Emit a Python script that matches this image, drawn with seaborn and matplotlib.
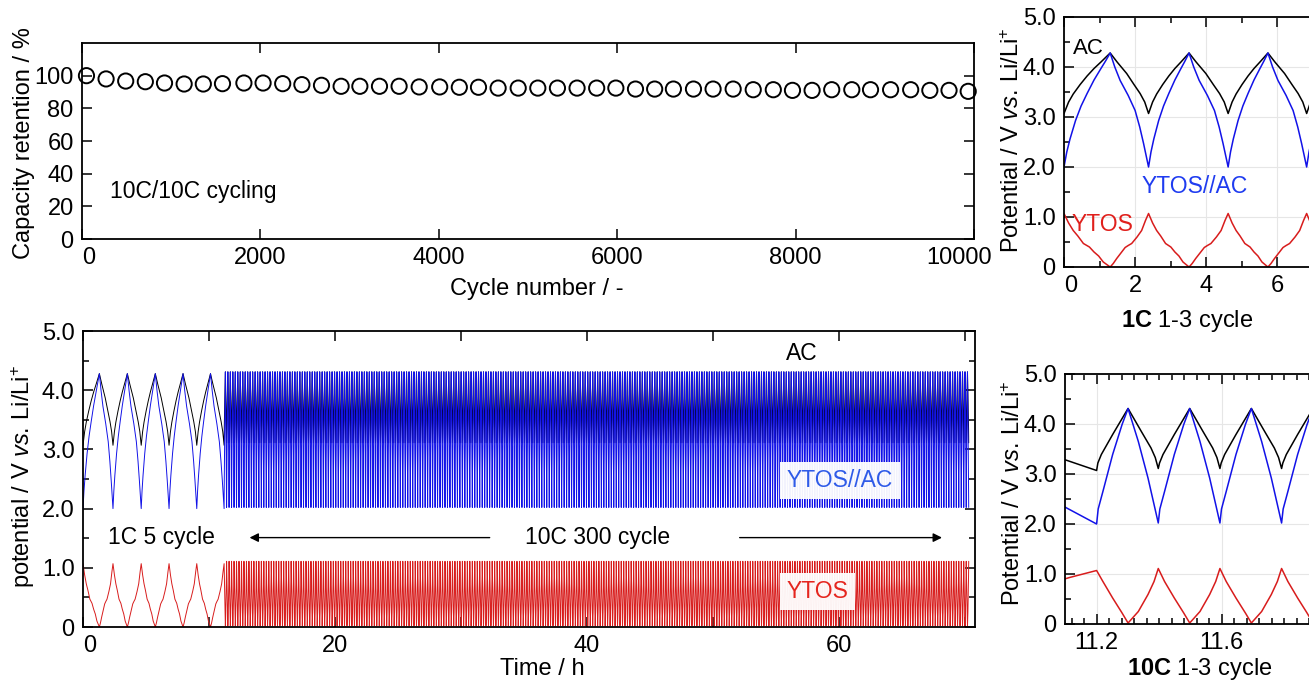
import numpy as np
import pandas as pd
import matplotlib
matplotlib.use("Agg")
import matplotlib.pyplot as plt
from matplotlib.ticker import MultipleLocator, FixedLocator, FixedFormatter
from matplotlib.transforms import ScaledTranslation
import seaborn as sns

# ---- capacity retention (10C/10C) ----
cycle_no = [50, 270, 490, 710, 925, 1145, 1360, 1575, 1815, 2030, 2250, 2465,
            2685, 2905, 3115, 3335, 3555, 3780, 4010, 4230, 4445, 4665, 4890,
            5110, 5330, 5550, 5770, 5985, 6205, 6420, 6630, 6855, 7075, 7300,
            7525, 7750, 7965, 8185, 8405, 8630, 8840, 9065, 9290, 9505, 9720, 9935]
retention = [100.0, 98.0, 96.7, 96.3, 95.5, 94.9, 94.9, 95.1, 95.5, 95.5, 95.1, 94.5,
             94.1, 93.5, 93.5, 93.5, 93.5, 93.1, 93.1, 92.9, 92.9, 92.4, 92.4,
             92.4, 92.4, 92.4, 92.4, 92.4, 91.8, 91.8, 91.8, 91.8, 91.8, 91.8,
             91.4, 91.4, 91.0, 91.0, 91.4, 91.4, 91.4, 91.4, 91.4, 91.0, 91.0, 90.4]

# ---- potential profiles ----
# 1C: turning points (h), charge / discharge alternate
onec_turns = [0.0, 1.30, 2.38, 3.52, 4.62, 5.74, 6.83, 7.94, 9.03, 10.12, 11.20]
# one branch: fraction of branch time -> potential / V
ac_1c_chg = ([0, 0.1, 0.2, 0.35, 0.5, 0.65, 0.8, 1.0],
             [3.07, 3.3, 3.46, 3.65, 3.82, 3.97, 4.1, 4.28])
ac_1c_dis = ([0, 0.18, 0.43, 0.62, 0.78, 0.9, 1.0],
             [4.28, 4.1, 3.87, 3.65, 3.47, 3.3, 3.07])
cell_1c_chg = ([0, 0.06, 0.13, 0.25, 0.37, 0.5, 0.65, 0.8, 0.9, 1.0],
               [2.0, 2.3, 2.56, 2.93, 3.22, 3.47, 3.74, 3.97, 4.12, 4.28])
cell_1c_dis = ([0, 0.12, 0.26, 0.47, 0.65, 0.77, 0.87, 1.0],
               [4.28, 4.0, 3.73, 3.43, 3.13, 2.8, 2.47, 2.0])
ytos_1c_chg = ([0, 0.1, 0.2, 0.3, 0.42, 0.55, 0.65, 0.75, 0.85, 1.0],
               [1.07, 0.88, 0.73, 0.62, 0.47, 0.4, 0.3, 0.22, 0.1, 0.0])
ytos_1c_dis = ([0, 0.08, 0.17, 0.28, 0.39, 0.47, 0.56, 0.7, 0.82, 0.92, 1.0],
               [0, 0.07, 0.17, 0.28, 0.39, 0.43, 0.47, 0.6, 0.73, 0.93, 1.07])

# 10C: 300 cycles after the 1C part
tenc_start = 11.2
tenc_cycles = 300
tenc_period = 0.197
tenc_chg_share = 0.51
ac_10c_chg = ([0, 0.04, 0.15, 0.51, 1.0], [3.11, 3.22, 3.39, 3.79, 4.31])
ac_10c_dis = ([0, 0.44, 0.76, 0.9, 1.0], [4.31, 3.85, 3.52, 3.33, 3.11])
cell_10c_chg = ([0, 0.05, 0.2, 0.51, 0.81, 1.0], [2.02, 2.3, 2.65, 3.39, 3.99, 4.31])
cell_10c_dis = ([0, 0.34, 0.66, 1.0], [4.31, 3.65, 2.92, 2.02])
ytos_10c_chg = ([0, 0.2, 0.51, 0.81, 1.0], [1.11, 0.85, 0.52, 0.22, 0.02])
ytos_10c_dis = ([0, 0.34, 0.66, 0.86, 1.0], [0.02, 0.25, 0.59, 0.85, 1.11])

line_colors = {"AC": "black", "YTOS//AC": "#1212e8", "YTOS": "#d81c1c"}


def trace(turns, up, down):
    ts, vs = [], []
    for i in range(len(turns) - 1):
        f, v = up if i % 2 == 0 else down
        t = turns[i] + np.asarray(f) * (turns[i + 1] - turns[i])
        v = np.asarray(v, dtype=float)
        if i:
            t, v = t[1:], v[1:]
        ts.append(t)
        vs.append(v)
    return np.concatenate(ts), np.concatenate(vs)


steps = np.tile([tenc_chg_share * tenc_period, (1 - tenc_chg_share) * tenc_period], tenc_cycles)
tenc_turns = tenc_start + np.concatenate([[0], np.cumsum(steps)])

frames = []
for name, a, b, c, d in [("AC", ac_1c_chg, ac_1c_dis, ac_10c_chg, ac_10c_dis),
                         ("YTOS//AC", cell_1c_chg, cell_1c_dis, cell_10c_chg, cell_10c_dis),
                         ("YTOS", ytos_1c_chg, ytos_1c_dis, ytos_10c_chg, ytos_10c_dis)]:
    t1, v1 = trace(onec_turns, a, b)
    t2, v2 = trace(tenc_turns, c, d)
    frames.append(pd.DataFrame({"t": np.r_[t1, t2[1:]], "V": np.r_[v1, v2[1:]], "trace": name}))
df = pd.concat(frames, ignore_index=True)

# ---- style ----
sns.set_theme(style="ticks", rc={"axes.edgecolor": "black", "xtick.color": "black",
                                 "ytick.color": "black", "text.color": "black",
                                 "axes.labelcolor": "black"})
plt.rcParams["font.family"] = ["Liberation Sans", "DejaVu Sans"]
plt.rcParams["mathtext.fontset"] = "custom"
plt.rcParams["mathtext.rm"] = "Liberation Sans"
plt.rcParams["mathtext.it"] = "Liberation Sans:italic"
plt.rcParams["mathtext.bf"] = "Liberation Sans:bold"

FS = 17
W, H = 1309, 680
fig = plt.figure(figsize=(W / 100, H / 100), dpi=100)


def px_axes(left, top, right, bottom):
    return fig.add_axes([left / W, 1 - bottom / H, (right - left) / W, (bottom - top) / H])


def frame(ax):
    ax.tick_params(which="both", direction="in", top=True, right=True, width=1.1,
                   labelsize=FS, pad=6)
    ax.tick_params(which="major", length=7)
    ax.tick_params(which="minor", length=4)
    for s in ax.spines.values():
        s.set_linewidth(1.3)


def nudge_first_xlabel(ax):
    ax.get_xticklabels()[0].set_horizontalalignment("left")


v_ticks = [0, 1, 2, 3, 4, 5]
v_labels = ["0", "1.0", "2.0", "3.0", "4.0", "5.0"]
ylab = r"Potential / V $\mathit{vs.}\,\mathrm{Li/Li}^{+}$"

# ---- capacity retention ----
ax = px_axes(82, 43, 974, 239)
sns.scatterplot(x=cycle_no, y=retention, ax=ax, marker="o", s=120, facecolor="none",
                edgecolor="black", linewidth=1.4, legend=False, clip_on=False, zorder=3)
ax.set_xlim(0, 10000)
ax.set_ylim(0, 120)
ax.xaxis.set_major_locator(FixedLocator([0, 2000, 4000, 6000, 8000, 10000]))
ax.yaxis.set_major_locator(FixedLocator([0, 20, 40, 60, 80, 100]))
frame(ax)
nudge_first_xlabel(ax)
last = ax.get_xticklabels()[-1]
last.set_transform(last.get_transform() + ScaledTranslation(-0.15, 0, fig.dpi_scale_trans))
ax.set_xlabel("Cycle number / -", fontsize=FS)
ax.set_ylabel("Capacity retention / %", fontsize=FS)
ax.xaxis.set_label_coords(0.51, -0.2)
ax.yaxis.set_label_coords(-0.053, 0.49)
ax.text(314, 25.2, "10C/10C cycling", fontsize=16.5, va="baseline")

# ---- full time course ----
ax = px_axes(83, 331, 975, 627)
sns.lineplot(data=df, x="t", y="V", hue="trace", palette=line_colors,
             hue_order=["AC", "YTOS//AC", "YTOS"], estimator=None, sort=False,
             linewidth=0.7, legend=False, ax=ax)
ax.set_xlim(0, 70.8)
ax.set_ylim(0, 5.0)
ax.xaxis.set_major_locator(FixedLocator([0, 20, 40, 60]))
ax.xaxis.set_minor_locator(FixedLocator([10, 30, 50, 70]))
ax.yaxis.set_major_locator(FixedLocator(v_ticks))
ax.yaxis.set_major_formatter(FixedFormatter(v_labels))
ax.yaxis.set_minor_locator(MultipleLocator(0.5))
frame(ax)
ax.tick_params(axis="x", which="minor", length=7)
nudge_first_xlabel(ax)
ax.set_xlabel("Time / h", fontsize=FS)
ax.set_ylabel(r"potential / V $\mathit{vs.}\,\mathrm{Li/Li}^{+}$", fontsize=FS)
ax.xaxis.set_label_coords(0.515, -0.105)
ax.yaxis.set_label_coords(-0.052, 0.51)
ax.text(55.8, 4.51, "AC", fontsize=16.5, va="baseline")
ax.text(55.85, 2.37, "YTOS//AC", fontsize=16.5, va="baseline", color="#2f5be8",
        bbox=dict(boxstyle="square,pad=0.3", fc="white", ec="none", alpha=0.95))
ax.text(55.85, 0.485, "YTOS", fontsize=16.5, va="baseline", color="#e5261f",
        bbox=dict(boxstyle="square,pad=0.3", fc="white", ec="none", alpha=0.95))
ax.text(2.0, 1.40, "1C 5 cycle", fontsize=16.5, va="baseline")
ax.text(35.1, 1.40, "10C 300 cycle", fontsize=16.5, va="baseline")
arrow = dict(arrowstyle="-|>", color="black", lw=1.0, mutation_scale=13)
ax.annotate("", xy=(13.0, 1.51), xytext=(32.5, 1.51), arrowprops=arrow)
ax.annotate("", xy=(68.4, 1.51), xytext=(51.9, 1.51), arrowprops=arrow)

# ---- 1C zoom ----
ax = px_axes(1064, 17, 1334, 267)
ax.set_axisbelow(True)
ax.grid(True, which="major", color="#e6e6e6", lw=0.8)
sns.lineplot(data=df, x="t", y="V", hue="trace", palette=line_colors,
             hue_order=["AC", "YTOS//AC", "YTOS"], estimator=None, sort=False,
             linewidth=1.1, legend=False, ax=ax)
ax.set_xlim(0, 7.6)
ax.set_ylim(0, 5.0)
ax.xaxis.set_major_locator(FixedLocator([0, 2, 4, 6]))
ax.xaxis.set_minor_locator(MultipleLocator(1))
ax.yaxis.set_major_locator(FixedLocator(v_ticks))
ax.yaxis.set_major_formatter(FixedFormatter(v_labels))
ax.yaxis.set_minor_locator(MultipleLocator(0.5))
frame(ax)
nudge_first_xlabel(ax)
ax.set_xlabel(r"$\mathbf{1C}$ 1-3 cycle", fontsize=FS)
ax.set_ylabel(ylab, fontsize=FS)
ax.xaxis.set_label_coords(0.456, -0.165)
ax.yaxis.set_label_coords(-0.148, 0.508)
ax.text(0.26, 4.25, "AC", fontsize=16, va="baseline")
ax.text(2.19, 1.47, "YTOS//AC", fontsize=16.5, va="baseline", color="#1f3cf0")
ax.text(0.22, 0.72, "YTOS", fontsize=16.5, va="baseline", color="#e0201c")

# ---- 10C zoom ----
ax = px_axes(1065, 374, 1347, 624)
ax.set_axisbelow(True)
ax.grid(True, which="major", color="#e6e6e6", lw=0.8)
sns.lineplot(data=df, x="t", y="V", hue="trace", palette=line_colors,
             hue_order=["AC", "YTOS//AC", "YTOS"], estimator=None, sort=False,
             linewidth=1.1, legend=False, ax=ax)
ax.set_xlim(11.099, 12.0)
ax.set_ylim(0, 5.0)
ax.xaxis.set_major_locator(FixedLocator([11.2, 11.6]))
ax.xaxis.set_major_formatter(FixedFormatter(["11.2", "11.6"]))
ax.xaxis.set_minor_locator(MultipleLocator(0.04))
ax.yaxis.set_major_locator(FixedLocator(v_ticks))
ax.yaxis.set_major_formatter(FixedFormatter(v_labels))
ax.yaxis.set_minor_locator(MultipleLocator(0.5))
frame(ax)
ax.set_xlabel(r"$\mathbf{10C}$ 1-3 cycle", fontsize=FS)
ax.set_ylabel(ylab, fontsize=FS)
ax.xaxis.set_label_coords(0.476, -0.128)
ax.yaxis.set_label_coords(-0.142, 0.525)

fig.savefig("out.png", dpi=100)
